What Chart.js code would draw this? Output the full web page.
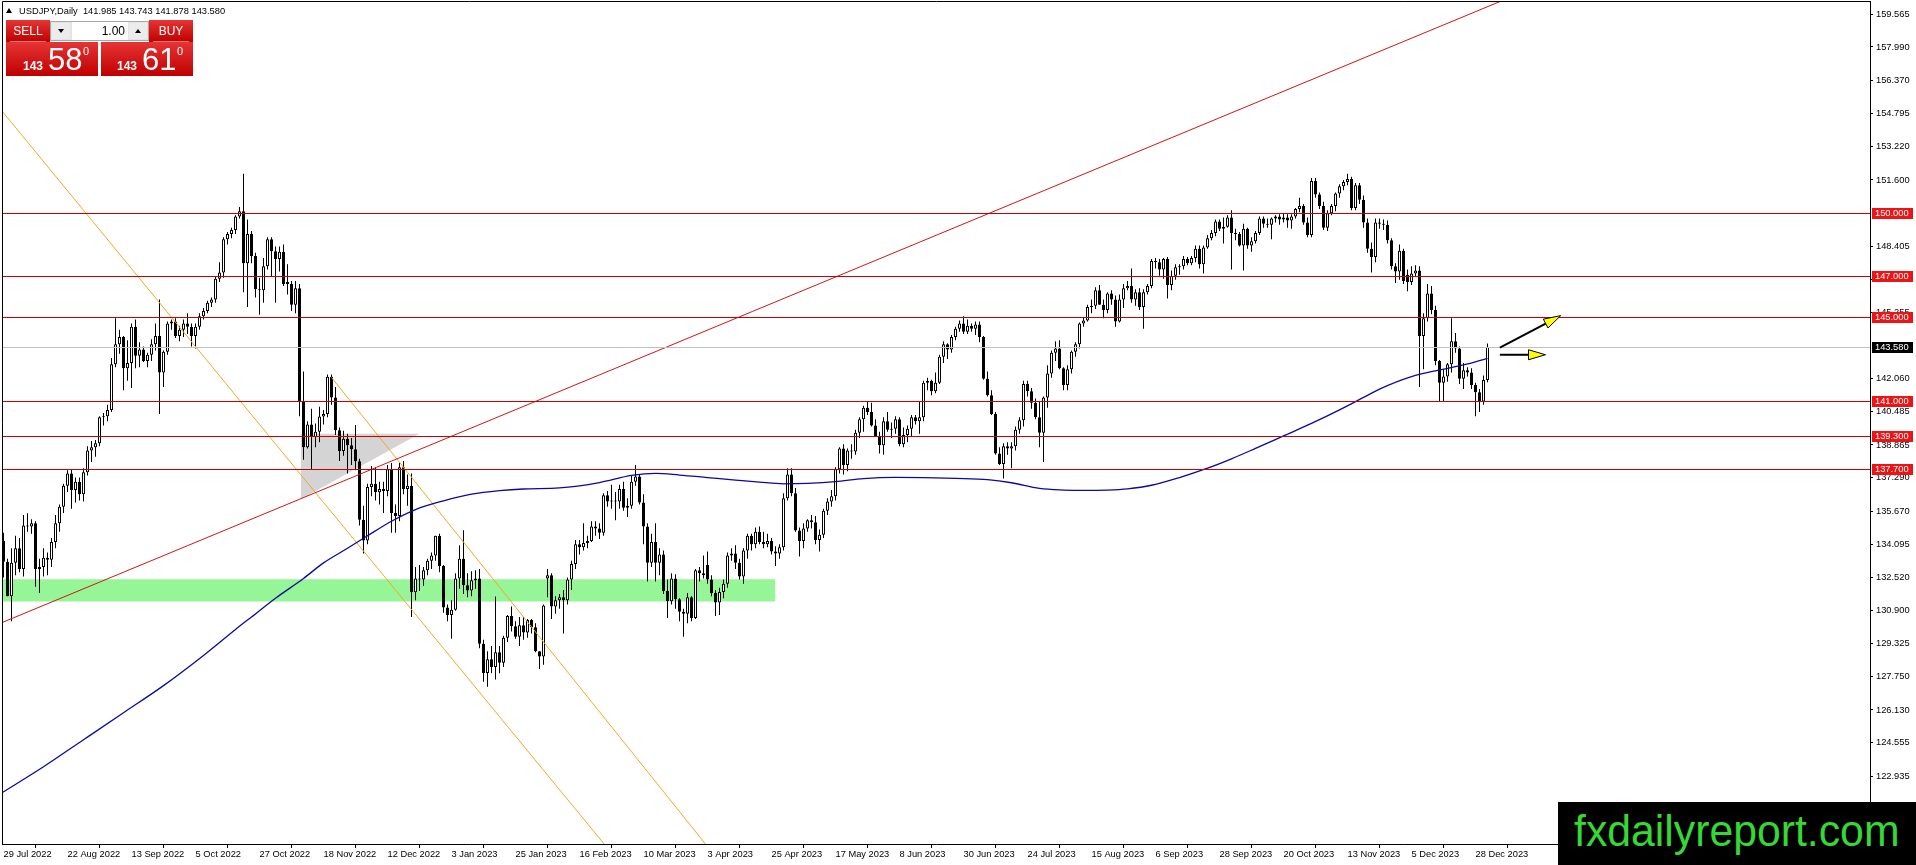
<!DOCTYPE html>
<html>
<head>
<meta charset="utf-8">
<title>USDJPY Daily</title>
<script src="https://cdn.jsdelivr.net/npm/chart.js@4.4.1/dist/chart.umd.min.js"></script>
<style>
  html, body { margin: 0; padding: 0; background: #fff; }
  #wrap { position: relative; width: 1916px; height: 865px; overflow: hidden; font-family: "Liberation Sans", Arial, sans-serif; }
  #chart { position: absolute; left: 0; top: 0; }
  #tri { position: absolute; left: 6px; top: 8px; width: 0; height: 0; border-left: 3px solid transparent; border-right: 3px solid transparent; border-bottom: 5px solid #000; }
  #title { position: absolute; left: 19px; top: 5px; font-size: 9.3px; line-height: 12px; color: #000; white-space: pre; }
  .red { position: absolute; background: linear-gradient(#e63434, #bf0000); color: #fff; }
  .tab { height: 22px; width: 44px; top: 20px; font-size: 12px; line-height: 22px; text-align: center; }
  .tab i { position: absolute; left: 4px; right: 4px; bottom: 0; height: 1px; background: rgba(255,255,255,0.45); }
  #sellTab { left: 6px; }
  #buyTab { left: 149px; }
  #lot { position: absolute; left: 50px; top: 21px; width: 97px; height: 18px; background: #e4e4e4; border: 1px solid #a8a8a8; }
  #lot .arr { position: absolute; top: 1px; width: 18px; height: 16px; background: #ececec; }
  #lot .arr b { position: absolute; left: 6px; top: 6px; width: 0; height: 0; border-left: 3px solid transparent; border-right: 3px solid transparent; }
  #lot .dn { left: 1px; } #lot .dn b { border-top: 4px solid #000; }
  #lot .up { right: 1px; } #lot .up b { border-bottom: 4px solid #000; }
  #lot .val { position: absolute; left: 21px; top: 0; width: 56px; height: 18px; background: #fff; font-size: 12px; line-height: 18px; text-align: right; padding-right: 3px; box-sizing: border-box; color: #000; }
  .price { top: 42px; width: 92px; height: 34px; }
  #sellPrice { left: 6px; }
  #buyPrice { left: 101px; }
  .price span { position: absolute; white-space: pre; }
  .small { font-size: 12px; line-height: 12px; font-weight: bold; top: 18px; }
  .big { font-size: 31px; line-height: 31px; top: 2px; }
  .sup { font-size: 11px; line-height: 11px; top: 4px; }
  #mark { position: absolute; left: 1558px; top: 802px; width: 358px; height: 63px; background: #000; }
  #mark span { position: absolute; left: 16px; top: 6px; font-size: 45px; line-height: 45px; color: #35d835; white-space: pre; transform: scaleX(0.95); transform-origin: left top; }
</style>
</head>
<body>
<div id="wrap">
  <canvas id="chart" width="1916" height="865"></canvas>
  <div id="tri"></div>
  <div id="title">USDJPY,Daily  141.985 143.743 141.878 143.580</div>
  <div class="red tab" id="sellTab">SELL<i></i></div>
  <div id="lot"><div class="arr dn"><b></b></div><div class="val">1.00</div><div class="arr up"><b></b></div></div>
  <div class="red tab" id="buyTab">BUY<i></i></div>
  <div class="red price" id="sellPrice"><span class="small" style="left:17px">143</span><span class="big" style="left:42px">58</span><span class="sup" style="left:77px">0</span></div>
  <div class="red price" id="buyPrice"><span class="small" style="left:16px">143</span><span class="big" style="left:41px">61</span><span class="sup" style="left:76px">0</span></div>
  <div id="mark"><span>fxdailyreport.com</span></div>
</div>
<script>
// daily candles, 29 Jul 2022 .. 3 Jan 2024 (one entry per trading day)
var opens = [
  134.25,133.25,131.60,133.20,133.90,132.90,135.00,134.95,135.10,132.90,
  133.00,133.45,133.35,134.20,135.10,135.90,136.90,137.50,136.70,137.10,
  136.50,137.55,138.60,138.75,138.95,140.20,140.25,140.55,142.75,143.70,
  144.05,142.55,142.80,144.55,143.15,143.45,142.90,143.20,143.70,144.10,
  142.35,143.35,144.70,144.80,144.10,144.40,144.70,144.55,144.10,144.55,
  145.05,145.30,145.70,145.85,146.85,147.15,148.75,149.00,149.20,149.85,
  150.10,147.60,149.00,147.95,146.35,146.30,147.45,148.75,148.18,147.80,
  148.15,146.70,146.60,145.60,146.40,140.95,138.75,139.85,139.25,139.50,
  140.23,140.35,142.14,141.15,139.57,138.58,139.16,138.85,138.66,138.08,
  135.27,134.27,136.84,137.00,136.59,136.75,136.65,137.70,135.60,135.45,
  137.80,136.75,136.90,131.79,132.45,132.40,132.85,133.30,133.55,134.50,
  133.05,131.05,130.70,130.95,132.45,133.40,132.12,131.87,132.37,132.45,
  129.31,127.91,128.57,128.20,128.90,128.40,129.60,130.65,130.15,129.65,
  130.20,129.85,130.45,130.10,128.95,128.70,132.45,132.60,131.10,131.40,
  131.55,131.40,132.40,133.15,134.10,133.95,134.15,134.25,134.95,134.85,
  134.65,136.45,136.15,136.20,136.15,136.75,135.85,135.95,137.10,137.35,
  136.10,134.95,133.20,134.20,133.20,133.60,131.85,131.35,132.45,131.45,
  130.85,130.75,131.55,130.55,132.85,132.70,133.10,132.40,131.75,131.30,
  131.80,132.20,133.55,133.65,133.20,132.55,133.80,134.50,134.10,134.70,
  134.20,134.10,134.25,133.75,133.65,133.95,136.30,137.45,136.55,134.75,
  134.25,134.85,135.25,135.15,134.30,134.55,135.70,136.15,136.40,137.70,
  138.70,137.90,138.60,138.55,139.45,140.10,140.65,140.45,139.80,139.30,
  138.85,140.00,139.60,139.65,140.10,138.90,139.35,139.65,140.20,140.00,
  140.20,141.85,141.95,141.45,141.85,143.10,143.70,143.45,144.05,144.45,
  144.70,144.30,144.60,144.45,144.65,144.05,142.05,141.25,140.35,138.45,
  137.95,138.80,138.70,138.80,139.60,140.05,141.80,141.45,140.90,140.20,
  139.45,141.15,142.30,143.30,143.50,142.55,141.75,142.50,143.35,143.70,
  144.70,144.85,145.50,145.55,146.30,145.60,145.35,146.15,145.85,144.80,
  145.85,146.40,146.50,145.85,146.20,145.50,146.20,146.50,147.70,147.65,
  147.30,147.80,146.55,147.00,147.40,147.45,147.80,147.60,147.85,148.30,
  147.55,148.35,148.80,149.05,149.60,149.25,149.35,149.80,149.05,149.00,
  148.45,149.25,148.45,148.65,149.05,149.75,149.50,149.45,149.75,149.85,
  149.70,149.80,149.65,149.85,150.20,150.35,149.55,148.95,151.55,150.90,
  150.35,149.30,150.00,150.35,150.95,151.30,151.50,151.65,150.25,151.35,
  150.65,149.55,148.30,147.90,149.55,149.50,149.45,148.70,147.45,147.20,
  148.20,147.05,146.70,147.10,147.25,144.10,144.95,146.15,145.35,142.90,
  141.85,142.15,142.75,143.85,143.50,142.05,142.45,142.35,141.75,141.40,
  140.95,141.985
];
var highs = [
  134.65,133.40,133.90,134.50,134.40,135.50,135.58,135.30,135.20,133.40,
  133.90,133.70,134.40,135.50,136.00,137.00,137.65,137.70,137.30,137.30,
  137.75,138.80,139.05,139.10,140.25,140.40,140.80,143.05,144.95,144.40,
  144.10,143.90,144.70,144.90,143.80,143.60,143.30,143.95,144.70,145.85,
  143.40,144.80,144.90,144.95,144.60,144.90,145.20,144.70,144.70,145.20,
  145.45,145.80,145.95,146.95,147.65,148.85,149.10,149.30,149.90,150.30,
  151.90,149.70,149.15,148.10,146.90,147.85,148.85,148.85,148.40,148.40,
  148.50,147.55,146.75,146.75,146.60,142.40,140.00,140.60,139.90,140.70,
  140.55,142.25,142.25,141.65,139.70,139.55,139.40,139.20,139.82,138.20,
  135.95,137.00,137.85,137.80,137.10,137.10,137.90,138.00,136.00,138.00,
  138.10,137.45,137.50,133.00,133.10,133.00,133.40,133.70,134.50,134.60,
  133.10,131.20,131.40,132.70,134.05,134.77,132.70,132.80,132.85,132.90,
  129.50,128.95,129.20,131.58,129.20,129.70,130.70,131.10,130.40,130.60,
  130.60,130.50,130.50,130.30,128.95,131.20,132.90,132.70,131.60,131.70,
  131.90,132.50,133.30,134.30,134.30,135.10,134.50,135.20,135.20,135.10,
  136.55,136.65,136.95,136.60,136.95,137.10,136.30,137.40,137.90,137.45,
  136.50,135.10,134.60,135.10,133.90,133.80,132.40,132.70,132.65,131.50,
  131.00,131.75,131.60,132.90,133.00,133.55,133.75,132.60,131.90,132.00,
  132.40,133.70,133.90,134.05,133.40,133.90,134.60,134.60,134.90,134.95,
  134.70,134.60,134.40,134.00,134.10,136.55,137.75,137.75,136.80,134.90,
  135.10,135.30,135.50,135.45,134.80,135.80,136.30,136.70,137.80,138.75,
  138.90,138.70,138.90,139.60,140.20,140.75,140.95,140.90,140.10,139.50,
  140.20,140.45,139.95,140.25,140.20,139.70,139.80,140.30,140.30,140.95,
  141.95,142.10,142.00,142.35,143.20,143.85,143.75,144.15,144.55,144.85,
  145.05,144.90,144.70,144.80,144.80,144.10,142.40,141.50,140.45,138.75,
  138.95,139.00,139.00,139.75,140.20,141.95,141.95,141.60,141.10,140.95,
  141.20,142.70,143.40,143.85,143.90,142.60,142.70,143.40,143.80,144.75,
  145.00,145.60,145.85,146.45,146.55,145.85,146.20,146.30,146.05,146.10,
  146.60,146.75,147.35,146.35,146.40,146.35,146.60,147.80,147.85,147.80,
  147.85,147.90,147.25,147.55,147.55,147.95,147.90,147.95,148.45,148.45,
  148.45,148.95,149.20,149.70,149.70,149.80,149.90,150.15,149.25,149.10,
  149.50,149.30,148.85,149.15,149.85,149.85,149.75,149.80,149.90,149.95,
  150.00,149.95,149.95,150.25,150.75,150.45,149.80,151.70,151.70,151.00,
  150.55,150.15,150.45,151.00,151.40,151.60,151.90,151.75,151.45,151.45,
  150.85,149.75,148.60,149.75,149.75,149.70,149.65,148.80,147.60,148.50,
  148.30,147.30,147.45,147.50,147.45,145.20,146.60,146.50,145.55,142.95,
  142.50,142.80,144.95,144.25,143.60,142.80,142.60,142.55,141.85,141.55,
  142.20,143.743
];
var lows = [
  132.50,131.60,130.40,132.60,132.75,132.55,134.70,134.60,132.05,131.75,
  132.55,132.60,133.00,133.90,134.70,135.60,136.60,135.80,136.10,136.20,
  136.15,137.40,138.05,138.30,138.80,139.80,140.00,140.45,142.60,143.25,
  141.50,141.95,141.60,142.55,142.60,142.85,142.60,142.90,143.40,140.35,
  141.65,143.20,144.40,144.00,143.85,144.05,144.20,143.60,143.50,144.40,
  144.90,145.20,145.50,145.70,146.70,146.90,148.50,148.80,149.00,149.75,
  146.20,145.50,147.60,145.95,145.12,145.70,147.30,146.95,145.70,147.20,
  146.50,146.10,145.30,145.20,140.25,138.15,138.70,137.70,138.75,139.00,
  139.85,140.20,140.80,139.35,138.10,138.35,137.50,137.90,137.65,135.00,
  133.65,134.10,136.40,136.20,136.00,135.60,136.40,134.65,134.65,135.20,
  136.50,135.95,130.60,131.40,131.85,132.10,132.60,132.90,133.30,132.75,
  130.80,130.40,129.55,130.90,131.95,131.70,131.55,131.60,131.95,129.10,
  127.49,127.25,127.90,127.60,127.90,128.20,129.40,129.90,129.55,129.20,
  129.50,129.60,129.80,128.90,128.10,128.30,131.55,130.50,130.75,131.00,
  129.80,131.20,131.90,132.90,133.60,133.80,133.90,134.20,134.50,134.35,
  134.50,135.90,135.80,135.25,135.80,135.70,135.40,135.80,136.90,136.00,
  134.10,132.30,133.00,132.30,132.60,131.70,130.55,131.20,131.00,130.40,
  129.65,130.30,130.40,130.50,132.30,132.45,132.20,131.60,130.65,130.70,
  131.50,132.00,133.30,132.90,132.40,132.20,133.40,133.80,133.90,134.10,
  133.90,133.95,133.60,133.05,133.40,133.80,136.20,136.40,134.70,133.50,
  133.90,134.70,134.85,134.10,133.75,134.40,135.50,135.90,136.20,137.50,
  137.45,137.60,138.20,138.40,139.20,139.50,140.30,139.75,139.30,138.45,
  138.40,139.50,139.20,139.40,138.80,138.75,139.00,139.30,139.85,139.40,
  140.00,141.50,141.25,141.35,141.80,142.80,143.00,143.30,143.90,144.30,
  144.20,144.20,144.30,144.15,143.80,142.00,141.20,140.30,138.40,137.90,
  137.25,138.40,137.75,138.60,139.40,139.75,141.20,140.60,140.10,138.75,
  138.05,140.65,142.10,142.90,142.50,141.50,141.50,142.30,143.10,143.50,
  144.55,144.80,145.20,145.40,145.60,144.95,145.20,145.60,144.55,144.75,
  145.45,146.30,145.70,145.55,145.35,144.45,146.10,146.40,147.35,147.00,
  146.85,145.90,146.30,146.80,147.05,147.30,147.50,147.50,147.65,147.35,
  147.10,148.30,148.70,148.90,149.15,148.55,149.30,147.30,148.70,148.40,
  147.25,148.30,148.15,148.55,148.95,149.30,149.30,148.75,149.55,149.45,
  149.55,149.30,149.25,149.75,150.05,149.45,148.85,148.85,150.75,150.20,
  149.20,149.15,149.90,150.10,150.75,151.10,151.35,150.15,150.15,150.45,
  149.30,148.10,147.15,147.65,149.25,149.20,148.55,147.30,146.65,146.80,
  146.60,146.25,146.55,146.95,141.65,142.50,144.80,145.15,142.70,140.95,
  140.95,141.90,142.35,143.30,141.80,141.55,142.15,141.55,140.25,140.45,
  140.80,141.878
];
var closes = [
  133.25,131.60,133.20,133.90,132.90,135.00,134.95,135.10,132.90,133.00,
  133.45,133.35,134.20,135.10,135.90,136.90,137.50,136.70,137.10,136.50,
  137.55,138.60,138.75,138.95,140.20,140.25,140.55,142.75,143.70,144.05,
  142.55,142.80,144.55,143.15,143.45,142.90,143.20,143.70,144.10,142.35,
  143.35,144.70,144.80,144.10,144.40,144.70,144.55,144.10,144.55,145.05,
  145.30,145.70,145.85,146.85,147.15,148.75,149.00,149.20,149.85,150.10,
  147.60,149.00,147.95,146.35,146.30,147.45,148.75,148.18,147.80,148.15,
  146.60,146.60,145.60,146.40,140.95,138.75,139.85,139.25,139.50,140.23,
  140.35,142.14,141.15,139.57,138.58,139.16,138.85,138.66,138.08,135.27,
  134.27,136.84,137.00,136.59,136.75,136.65,137.70,135.60,135.45,137.80,
  136.75,136.90,131.79,132.45,132.40,132.85,133.30,133.55,134.50,133.05,
  131.05,130.70,130.95,132.45,133.40,132.12,131.87,132.37,132.45,129.31,
  127.91,128.57,128.20,128.90,128.40,129.60,130.65,130.15,129.65,130.20,
  129.85,130.45,130.10,128.95,128.70,131.15,132.60,131.10,131.40,131.55,
  131.40,132.40,133.15,134.10,133.95,134.15,134.25,134.95,134.85,134.65,
  136.45,136.15,136.20,136.15,136.75,135.85,135.95,137.10,137.35,136.10,
  134.95,133.20,134.20,133.20,133.60,131.85,131.35,132.45,131.45,130.85,
  130.75,131.55,130.55,132.85,132.70,132.60,132.40,131.75,131.30,131.80,
  132.20,133.55,133.65,133.20,132.55,133.80,134.50,134.10,134.70,134.20,
  134.10,134.25,133.75,133.65,133.95,136.30,137.45,136.55,134.75,134.25,
  134.85,135.25,135.15,134.30,134.55,135.70,136.15,136.40,137.70,138.70,
  137.90,138.60,138.55,139.45,140.10,140.65,140.45,139.80,139.30,138.85,
  140.00,139.60,139.65,140.10,138.90,139.35,139.65,140.20,140.00,140.20,
  141.85,141.95,141.45,141.85,143.10,143.70,143.45,144.05,144.45,144.70,
  144.30,144.60,144.45,144.65,144.05,142.05,141.25,140.35,138.45,137.95,
  138.80,138.70,138.80,139.60,140.05,141.80,141.45,140.90,140.20,139.45,
  141.15,142.30,143.30,143.50,142.55,141.75,142.50,143.35,143.70,144.70,
  144.85,145.50,145.55,146.30,145.60,145.35,146.15,145.85,144.80,145.85,
  146.40,146.50,145.85,146.20,145.50,146.20,146.50,147.70,147.65,147.30,
  147.80,146.55,147.00,147.40,147.45,147.80,147.60,147.85,148.30,147.55,
  148.35,148.80,149.05,149.60,149.25,149.35,149.80,149.05,149.00,148.45,
  149.25,148.45,148.65,149.05,149.75,149.50,149.45,149.75,149.85,149.70,
  149.80,149.65,149.85,150.20,150.35,149.55,148.95,151.55,150.90,150.35,
  149.30,150.00,150.35,150.95,151.30,151.50,151.65,150.25,151.35,150.65,
  149.55,148.30,147.90,149.55,149.50,149.45,148.70,147.45,147.20,148.20,
  146.75,146.70,147.10,147.25,144.10,144.95,146.15,145.35,142.90,141.85,
  142.15,142.75,143.85,143.50,142.05,142.45,142.35,141.75,141.40,140.95,
  141.985,143.58
];

// one date label every 16 bars
var labelStep = 16;
var dateLabels = ["29 Jul 2022", "22 Aug 2022", "13 Sep 2022", "5 Oct 2022", "27 Oct 2022", "18 Nov 2022",
  "12 Dec 2022", "3 Jan 2023", "25 Jan 2023", "16 Feb 2023", "10 Mar 2023", "3 Apr 2023", "25 Apr 2023",
  "17 May 2023", "8 Jun 2023", "30 Jun 2023", "24 Jul 2023", "15 Aug 2023", "6 Sep 2023", "28 Sep 2023",
  "20 Oct 2023", "13 Nov 2023", "5 Dec 2023", "28 Dec 2023"];

var priceTicks = [159.565, 157.990, 156.370, 154.795, 153.220, 151.600, 148.405, 146.830, 145.255,
  142.060, 140.485, 138.865, 137.290, 135.670, 134.095, 132.520, 130.900, 129.325, 127.750,
  126.130, 124.555, 122.935, 121.360];

var levels = [150.000, 147.000, 145.000, 141.000, 139.300, 137.700];
var bidPrice = 143.580;

// moving average (bar index, price)
var maBars = [-0.4, 10, 20, 30, 40, 50, 58, 62, 68, 75, 80, 86, 91, 97, 103, 110, 117, 124, 130, 139,
  149, 157, 163, 169, 176, 183, 189, 195, 201, 208, 215, 223, 230, 238, 246, 252, 259, 265, 270, 276,
  281, 287, 294, 301, 307, 313, 320, 327, 334, 340, 344, 352, 359, 365, 371];
var maValues = [122.15, 123.4, 124.7, 126.0, 127.3, 128.75, 130.0, 130.6, 131.5, 132.45, 133.2, 133.9, 134.5, 135.2, 135.76, 136.18, 136.5, 136.67, 136.75, 136.8,
  137.06, 137.4, 137.5, 137.42, 137.3, 137.18, 137.08, 137.0, 137.02, 137.1, 137.25, 137.31, 137.3, 137.26, 137.2, 137.05, 136.78, 136.7, 136.68, 136.7,
  136.76, 136.93, 137.3, 137.75, 138.2, 138.7, 139.3, 139.9, 140.55, 141.15, 141.55, 142.15, 142.47, 142.71, 143.03];

// drawn objects, as [bar, price] pairs
var redTrend = [[-0.75, 130.30], [392, 161.60]];
var orangeA = [[-1, 155.06], [152, 119.26]];
var orangeB = [[82, 142.11], [182, 118.13]];
var greenZone = [-1, 193, 131.34, 132.41];   // from bar, to bar, low, high
var triangle = [[74.3, 136.26], [104, 139.40]];
var triangleTop = 139.40;
var arrows = [[374.1, 143.54, 389.3, 145.08], [374.1, 143.20, 385.5, 143.20]];

var FONT = "Liberation Sans";
var pts = function (arr) { return arr.map(function (p) { return { x: p[0], y: p[1] }; }); };

var wickData = opens.map(function (o, i) { return { x: i, y: [lows[i], highs[i]] }; });
var bodyData = opens.map(function (o, i) { return { x: i, y: [Math.min(o, closes[i]), Math.max(o, closes[i])] }; });
var maData = maBars.map(function (b, k) { return { x: b, y: maValues[k] }; });

var overlay = {
  id: "overlay",
  afterDatasetsDraw: function (chart) {
    var ctx = chart.ctx, a = chart.chartArea, x = chart.scales.x, y = chart.scales.y;
    ctx.save();
    ctx.lineWidth = 1;
    ctx.strokeStyle = "#c80000";
    levels.forEach(function (v) {
      var py = Math.round(y.getPixelForValue(v)) + 0.5;
      ctx.beginPath(); ctx.moveTo(a.left, py); ctx.lineTo(a.right, py); ctx.stroke();
    });
    ctx.strokeStyle = "#c0c0c0";
    var by = Math.round(y.getPixelForValue(bidPrice)) + 0.5;
    ctx.beginPath(); ctx.moveTo(a.left, by); ctx.lineTo(a.right, by); ctx.stroke();

    arrows.forEach(function (ar) {
      var x0 = x.getPixelForValue(ar[0]), y0 = y.getPixelForValue(ar[1]);
      var x1 = x.getPixelForValue(ar[2]), y1 = y.getPixelForValue(ar[3]);
      var ang = Math.atan2(y1 - y0, x1 - x0), c = Math.cos(ang), s = Math.sin(ang);
      var hl = 17, hw = 5;
      var bx = x1 - hl * c, byy = y1 - hl * s;
      ctx.strokeStyle = "#000"; ctx.lineWidth = 2;
      ctx.beginPath(); ctx.moveTo(x0, y0); ctx.lineTo(bx, byy); ctx.stroke();
      ctx.beginPath();
      ctx.moveTo(x1, y1);
      ctx.lineTo(bx + hw * s, byy - hw * c);
      ctx.lineTo(bx - hw * s, byy + hw * c);
      ctx.closePath();
      ctx.fillStyle = "#ffff00"; ctx.fill();
      ctx.lineWidth = 1; ctx.stroke();
    });
    ctx.restore();
  },
  afterDraw: function (chart) {
    var ctx = chart.ctx, a = chart.chartArea, y = chart.scales.y;
    ctx.save();
    ctx.strokeStyle = "#000"; ctx.lineWidth = 1;
    ctx.beginPath();
    ctx.moveTo(a.left + 0.5, a.bottom); ctx.lineTo(a.left + 0.5, a.top + 0.5); ctx.lineTo(a.right, a.top + 0.5);
    ctx.stroke();
    ctx.font = "9.3px " + FONT;
    ctx.textBaseline = "middle";
    ctx.textAlign = "left";
    var box = function (v, bg) {
      var py = Math.round(y.getPixelForValue(v));
      ctx.fillStyle = bg;
      ctx.fillRect(a.right + 2, py - 5, 41, 11);
      ctx.fillStyle = "#fff";
      ctx.fillText(v.toFixed(3), a.right + 5, py + 0.5);
    };
    levels.forEach(function (v) { box(v, "#ec1414"); });
    box(bidPrice, "#000");
    ctx.restore();
  }
};

new Chart(document.getElementById("chart"), {
  type: "bar",
  data: {
    datasets: [
      { type: "line", data: [{ x: greenZone[0], y: greenZone[3] }, { x: greenZone[1], y: greenZone[3] }],
        fill: { value: greenZone[2] }, backgroundColor: "#96f596", borderWidth: 0, pointRadius: 0, order: 10 },
      { type: "line", data: pts(triangle), fill: { value: triangleTop }, backgroundColor: "#d4d4d4",
        borderWidth: 0, pointRadius: 0, order: 9 },
      { type: "bar", data: wickData, barThickness: 1, backgroundColor: "#000", grouped: false,
        inflateAmount: 0, order: 6 },
      { type: "bar", data: bodyData, barThickness: 3, grouped: false, inflateAmount: 0, minBarLength: 1,
        borderWidth: 1, borderColor: "#000", borderSkipped: false,
        backgroundColor: function (c) { var i = c.dataIndex; return (i !== undefined && closes[i] >= opens[i]) ? "#fff" : "#000"; },
        order: 5 },
      { type: "line", data: pts(redTrend), borderColor: "#d01515", borderWidth: 1, pointRadius: 0, fill: false, clip: 0, order: 4 },
      { type: "line", data: pts(orangeA), borderColor: "#f5a623", borderWidth: 1, pointRadius: 0, fill: false, clip: 0, order: 4 },
      { type: "line", data: pts(orangeB), borderColor: "#f5a623", borderWidth: 1, pointRadius: 0, fill: false, clip: 0, order: 4 },
      { type: "line", data: maData, borderColor: "#0a0a9c", borderWidth: 1.3, pointRadius: 0, fill: false,
        cubicInterpolationMode: "monotone", clip: 0, order: 2 }
    ]
  },
  options: {
    responsive: false,
    devicePixelRatio: 1,
    animation: false,
    events: [],
    layout: { padding: { left: 2, top: 1, right: 0, bottom: 0 } },
    plugins: { legend: { display: false }, tooltip: { enabled: false } },
    scales: {
      x: {
        type: "linear", position: "bottom", min: -0.375, max: 466.625, offset: false,
        grid: { display: true, drawOnChartArea: false, drawTicks: true, tickLength: 4, color: "#000" },
        border: { display: true, color: "#000" },
        ticks: { autoSkip: false, maxRotation: 0, align: "start", padding: 1, color: "#000",
          font: { family: FONT, size: 9.3 },
          callback: function (v, i) { return dateLabels[i]; } },
        afterBuildTicks: function (s) { s.ticks = dateLabels.map(function (d, k) { return { value: k * labelStep }; }); },
        afterFit: function (s) { s.height = 21; s.paddingLeft = 0; s.paddingRight = 0; }
      },
      y: {
        type: "linear", position: "right", min: 119.69, max: 160.20,
        grid: { display: true, drawOnChartArea: false, drawTicks: true, tickLength: 3, color: "#000" },
        border: { display: true, color: "#000" },
        ticks: { autoSkip: false, padding: 3, color: "#000", font: { family: FONT, size: 9.3 },
          callback: function (v) { return v.toFixed(3); } },
        afterBuildTicks: function (s) { s.ticks = priceTicks.map(function (v) { return { value: v }; }); },
        afterFit: function (s) { s.width = 46; s.paddingTop = 0; s.paddingBottom = 0; }
      }
    }
  },
  plugins: [overlay]
});
</script>
</body>
</html>
